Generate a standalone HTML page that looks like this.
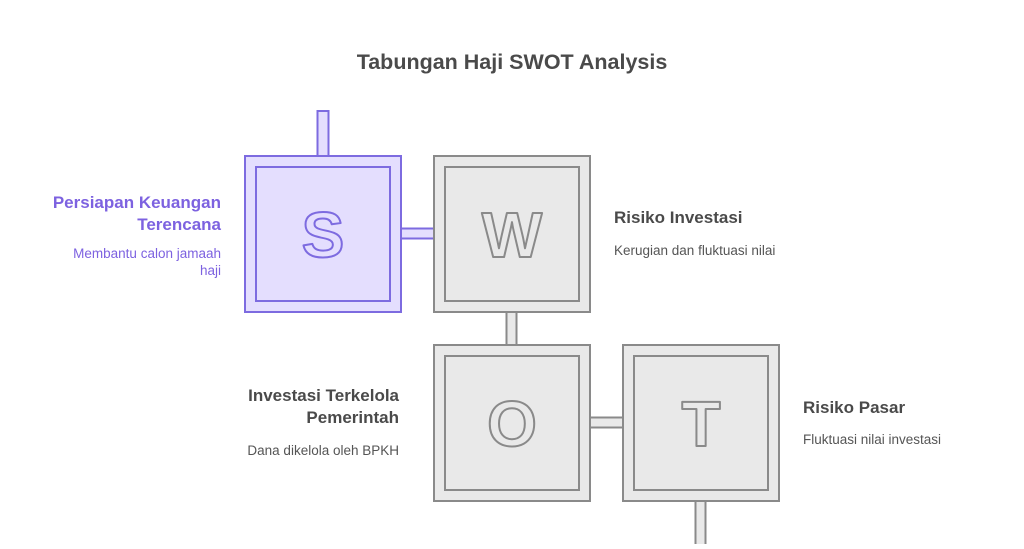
<!DOCTYPE html>
<html><head><meta charset="utf-8"><style>
body{margin:0;background:#fff;width:1024px;height:544px;overflow:hidden}
svg text{font-family:"Liberation Sans",sans-serif}
</style></head><body>
<svg width="1024" height="544" viewBox="0 0 1024 544" xmlns="http://www.w3.org/2000/svg">
<text x="512" y="69" text-anchor="middle" font-size="21.5" font-weight="bold" fill="#4a4a4a">Tabungan Haji SWOT Analysis</text>
<g stroke-width="2">
<rect x="317.5" y="111" width="11" height="45" fill="#e4defe" stroke="#7d6be0"/>
<rect x="401" y="228.5" width="33" height="10" fill="#e4defe" stroke="#7d6be0"/>
<rect x="506.5" y="312" width="10" height="33" fill="#e9e9e9" stroke="#8a8a8a"/>
<rect x="590" y="417.5" width="33" height="10" fill="#e9e9e9" stroke="#8a8a8a"/>
<rect x="695.5" y="501" width="10" height="45" fill="#e9e9e9" stroke="#8a8a8a"/>
<rect x="245" y="156" width="156" height="156" fill="#e4defe" stroke="#7d6be0"/>
<rect x="256" y="167" width="134" height="134" fill="#e4defe" stroke="#7d6be0"/>
<rect x="434" y="156" width="156" height="156" fill="#e9e9e9" stroke="#8a8a8a"/>
<rect x="445" y="167" width="134" height="134" fill="#e9e9e9" stroke="#8a8a8a"/>
<rect x="434" y="345" width="156" height="156" fill="#e9e9e9" stroke="#8a8a8a"/>
<rect x="445" y="356" width="134" height="134" fill="#e9e9e9" stroke="#8a8a8a"/>
<rect x="623" y="345" width="156" height="156" fill="#e9e9e9" stroke="#8a8a8a"/>
<rect x="634" y="356" width="134" height="134" fill="#e9e9e9" stroke="#8a8a8a"/>
</g>
<g font-size="64" font-weight="bold" text-anchor="middle" stroke-width="2" stroke-linejoin="round">
<text x="323" y="257" fill="#e4defe" stroke="#7d6be0">S</text>
<text x="512" y="257" fill="#e9e9e9" stroke="#8a8a8a">W</text>
<text x="512" y="446" fill="#e9e9e9" stroke="#8a8a8a">O</text>
<text x="701" y="446" fill="#e9e9e9" stroke="#8a8a8a">T</text>
</g>
<g font-size="17" font-weight="bold">
<text x="221" y="208" text-anchor="end" fill="#7d62e0">Persiapan Keuangan</text>
<text x="221" y="230" text-anchor="end" fill="#7d62e0">Terencana</text>
<text x="614" y="223" fill="#4a4a4a">Risiko Investasi</text>
<text x="399" y="401" text-anchor="end" fill="#4a4a4a">Investasi Terkelola</text>
<text x="399" y="423" text-anchor="end" fill="#4a4a4a">Pemerintah</text>
<text x="803" y="413" fill="#4a4a4a">Risiko Pasar</text>
</g>
<g font-size="13.5">
<text x="221" y="258" text-anchor="end" fill="#7d62e0">Membantu calon jamaah</text>
<text x="221" y="275" text-anchor="end" fill="#7d62e0">haji</text>
<text x="614" y="255" fill="#555">Kerugian dan fluktuasi nilai</text>
<text x="399" y="455" text-anchor="end" fill="#555">Dana dikelola oleh BPKH</text>
<text x="803" y="444" fill="#555">Fluktuasi nilai investasi</text>
</g>
</svg>
</body></html>
